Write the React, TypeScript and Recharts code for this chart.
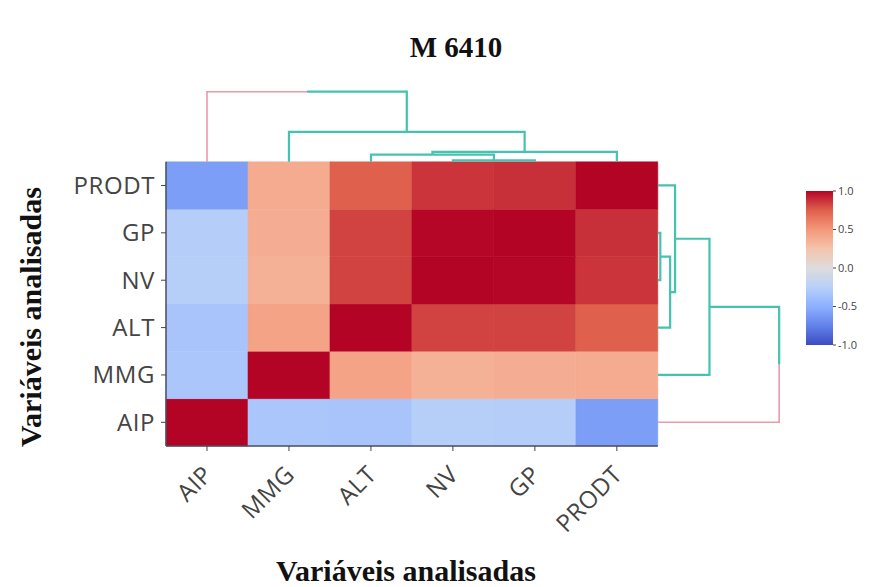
import {
  ComposedChart,
  BarChart,
  Bar,
  Scatter,
  XAxis,
  YAxis,
  ReferenceArea,
  ReferenceLine,
} from "recharts";

// variables, in the order of the clustered heatmap (left to right, bottom to top)
const variables = ["AIP", "MMG", "ALT", "NV", "GP", "PRODT"];

// correlation rows, same order as variables
const corrAIP = [1, -0.33, -0.34, -0.26, -0.27, -0.6];
const corrMMG = [-0.33, 1, 0.44, 0.36, 0.38, 0.39];
const corrALT = [-0.34, 0.44, 1, 0.83, 0.83, 0.75];
const corrNV = [-0.26, 0.36, 0.83, 1, 0.995, 0.87];
const corrGP = [-0.27, 0.38, 0.83, 0.995, 1, 0.88];
const corrPRODT = [-0.6, 0.39, 0.75, 0.87, 0.88, 1];
const corrRows = [corrAIP, corrMMG, corrALT, corrNV, corrGP, corrPRODT];

// linkage (scipy style): leaves are 0..5, new clusters get ids 6, 7, ...
const linkLeft = [3, 2, 7, 1, 0];
const linkRight = [4, 6, 5, 8, 9];
const linkHeight = [0.03, 0.15, 0.21, 0.63, 1.48];

const scaleTicks = [-1, -0.5, 0, 0.5, 1];
const scaleRange = [{ name: "r", range: [-1, 1] }];

const coolwarm = ["#3b4cc0", "#6282ea", "#8db0fe", "#b8d0f9", "#dddcdc", "#f5c4ac", "#f4987a", "#de604d", "#b40426"];
const TEAL = "#45c2b0";
const PINK = "#e99aae";
const TICK_FONT = "'Open Sans', 'DejaVu Sans', sans-serif";
const SERIF = "'Liberation Serif', 'Times New Roman', serif";

function hexToRgb(h: string) {
  return [1, 3, 5].map((i) => parseInt(h.slice(i, i + 2), 16));
}

function colorFor(v: number) {
  const t = Math.max(0, Math.min(1, (v + 1) / 2)) * (coolwarm.length - 1);
  const i = Math.min(Math.floor(t), coolwarm.length - 2);
  const f = t - i;
  const a = hexToRgb(coolwarm[i]);
  const b = hexToRgb(coolwarm[i + 1]);
  const c = a.map((x, k) => Math.round(x + (b[k] - x) * f));
  return `rgb(${c[0]},${c[1]},${c[2]})`;
}

const n = variables.length;
const centers = variables.map((_, i) => i + 0.5);

// walk the linkage to get each link's positions
const nodePos = variables.map((_, i) => i + 0.5);
const nodeH = variables.map(() => 0);
const links = linkLeft.map((a, k) => {
  const b = linkRight[k];
  const l = { a: nodePos[a], b: nodePos[b], ha: nodeH[a], hb: nodeH[b], h: linkHeight[k] };
  nodePos.push((nodePos[a] + nodePos[b]) / 2);
  nodeH.push(linkHeight[k]);
  return l;
});

type Seg = { color: string; pts: { x: number; y: number }[] };

function dendroSegs(flip: boolean): Seg[] {
  const P = (p: number, h: number) => (flip ? { x: n + h, y: p } : { x: p, y: n + h });
  const segs: Seg[] = [];
  links.forEach((l, k) => {
    if (k < links.length - 1) {
      segs.push({ color: TEAL, pts: [P(l.a, l.ha), P(l.a, l.h), P(l.b, l.h), P(l.b, l.hb)] });
    } else {
      // outlier branch (AIP) drawn pink up to the middle
      const mid = (l.a + l.b) / 2;
      segs.push({ color: PINK, pts: [P(l.a, l.ha), P(l.a, l.h), P(mid, l.h)] });
      segs.push({ color: TEAL, pts: [P(mid, l.h), P(l.b, l.h), P(l.b, l.hb)] });
    }
  });
  return segs;
}

const topSegs = dendroSegs(false);
const rightSegs = dendroSegs(true);

function XTick(props: any) {
  const { x, y, payload } = props;
  return (
    <g transform={`translate(${x},${y})`}>
      <text
        x={7}
        y={23}
        textAnchor="end"
        transform="rotate(-45, 7, 23)"
        fontSize={24}
        letterSpacing={0.6}
        fill="#444"
        fontFamily={TICK_FONT}
      >
        {variables[Math.floor(payload.value)]}
      </text>
    </g>
  );
}

export default function App() {
  return (
    <div style={{ position: "absolute", left: 0, top: 0, width: 870, height: 587, background: "#fff" }}>
      <div style={{ position: "absolute", left: 0, top: 0 }}>
        <ComposedChart width={870} height={587} margin={{ top: 86, right: 81, bottom: 0, left: 0 }}>
          <XAxis
            type="number"
            dataKey="x"
            domain={[0, 7.6]}
            ticks={centers}
            interval={0}
            height={141}
            axisLine={false}
            tickSize={5}
            tickLine={{ stroke: "#444" }}
            tick={(p: any) => <XTick {...p} />}
          />
          <YAxis
            type="number"
            dataKey="y"
            domain={[0, 7.6]}
            ticks={centers}
            interval={0}
            width={166}
            axisLine={false}
            tickSize={5}
            tickMargin={6}
            tickLine={{ stroke: "#444" }}
            tickFormatter={(v: number) => variables[Math.floor(v)]}
            tick={{ fontSize: 24, fill: "#444", fontFamily: TICK_FONT, letterSpacing: 0.6 }}
          />
          {corrRows.map((row, r) =>
            row.map((v, c) => (
              <ReferenceArea
                key={`c-${r}-${c}`}
                x1={c}
                x2={c + 1}
                y1={r}
                y2={r + 1}
                fill={colorFor(v)}
                fillOpacity={1}
                stroke={colorFor(v)}
                strokeWidth={0.5}
              />
            ))
          )}
          <ReferenceLine segment={[{ x: 0, y: 0 }, { x: 0, y: n }]} stroke="#4a4e5e" strokeWidth={1.5} />
          <ReferenceLine segment={[{ x: 0, y: 0 }, { x: n, y: 0 }]} stroke="#4a4e5e" strokeWidth={1.5} />
          {topSegs.map((s, i) => (
            <Scatter
              key={`t-${i}`}
              data={s.pts}
              line={{ stroke: s.color, strokeWidth: s.color === PINK ? 1.6 : 2.2 }}
              lineType="joint"
              stroke={s.color}
              fill="none"
              shape={() => <g />}
              isAnimationActive={false}
            />
          ))}
          {rightSegs.map((s, i) => (
            <Scatter
              key={`r-${i}`}
              data={s.pts}
              line={{ stroke: s.color, strokeWidth: s.color === PINK ? 1.6 : 2.2 }}
              lineType="joint"
              stroke={s.color}
              fill="none"
              shape={() => <g />}
              isAnimationActive={false}
            />
          ))}
        </ComposedChart>
      </div>

      <div style={{ position: "absolute", left: 790, top: 180 }}>
        <BarChart
          width={80}
          height={180}
          data={scaleRange}
          margin={{ top: 11, right: 0, bottom: 15, left: 16 }}
          barCategoryGap={0}
        >
          <defs>
            <linearGradient id="cwGrad" x1="0" y1="0" x2="0" y2="1">
              {coolwarm
                .slice()
                .reverse()
                .map((c, i) => (
                  <stop key={i} offset={i / (coolwarm.length - 1)} stopColor={c} />
                ))}
            </linearGradient>
          </defs>
          <XAxis dataKey="name" hide />
          <YAxis
            orientation="right"
            type="number"
            domain={[-1, 1]}
            ticks={scaleTicks}
            interval={0}
            width={37}
            axisLine={false}
            tickSize={3}
            tickMargin={2}
            tickLine={{ stroke: "#444" }}
            tickFormatter={(v: number) => v.toFixed(1)}
            tick={{ fontSize: 11, fill: "#444", fontFamily: TICK_FONT }}
          />
          <Bar dataKey="range" fill="url(#cwGrad)" isAnimationActive={false} />
        </BarChart>
      </div>

      <svg width={870} height={587} style={{ position: "absolute", left: 0, top: 0, pointerEvents: "none" }}>
        <text x={456} y={57} textAnchor="middle" fontFamily={SERIF} fontWeight="bold" fontSize={29} fill="#111">
          M 6410
        </text>
        <text x={406} y={581} textAnchor="middle" fontFamily={SERIF} fontWeight="bold" fontSize={30} fill="#111">
          Variáveis analisadas
        </text>
        <text
          x={41}
          y={317}
          textAnchor="middle"
          transform="rotate(-90, 41, 317)"
          fontFamily={SERIF}
          fontWeight="bold"
          fontSize={30}
          fill="#111"
        >
          Variáveis analisadas
        </text>
      </svg>
    </div>
  );
}
